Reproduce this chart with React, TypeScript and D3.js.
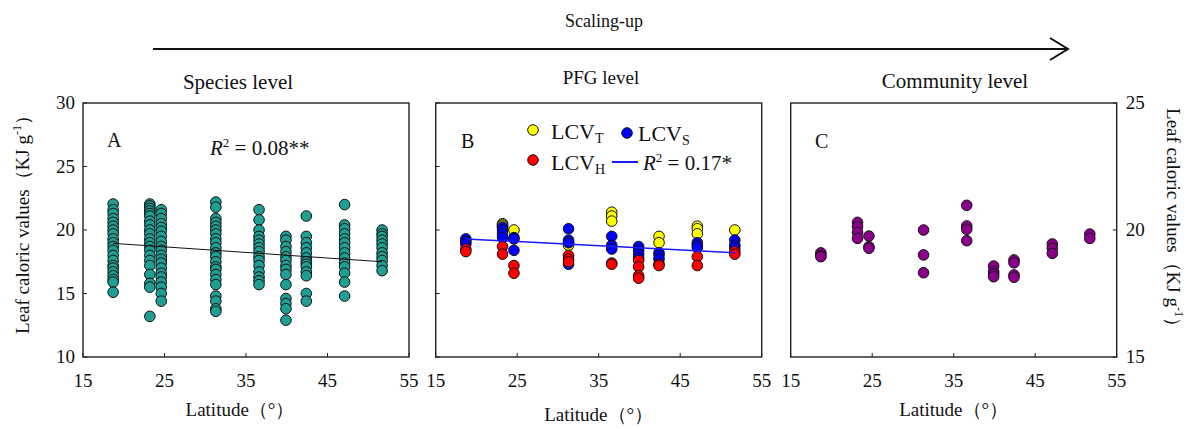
import { scaleLinear } from 'd3'

// Leaf caloric values along latitude at three organisation levels (species, PFG, community).

const latitudes = [18.7, 23.2, 24.6, 31.3, 36.6, 39.9, 42.4, 47.1, 51.7]
const xTicks = [15, 25, 35, 45, 55]
const yTicksLeft = [10, 15, 20, 25, 30]
const yTicksRight = [15, 20, 25]

// species level, one list per site
const speciesValues: number[][] = [
  [22.05, 21.6, 21.3, 20.9, 20.6, 20.3, 20.0, 19.7, 19.3, 19.0, 18.7, 18.4, 18.0, 17.6, 17.2, 17.0, 16.7, 16.4, 16.1, 15.9, 15.1],
  [22.05, 21.9, 21.7, 21.5, 21.3, 21.1, 20.7, 20.4, 20.0, 19.7, 19.3, 19.0, 18.7, 18.4, 18.0, 17.6, 17.2, 16.5, 15.8, 15.5, 13.2],
  [21.6, 21.3, 20.9, 20.5, 20.2, 19.9, 19.5, 19.1, 18.7, 18.4, 18.0, 17.7, 17.4, 17.0, 16.6, 16.3, 15.9, 15.5, 15.0, 14.4],
  [22.2, 21.8, 20.9, 20.6, 20.3, 20.0, 19.7, 19.3, 19.0, 18.6, 18.2, 17.9, 17.5, 17.1, 16.9, 16.5, 16.1, 15.7, 14.8, 14.4, 13.8, 13.6],
  [21.6, 20.8, 20.0, 19.5, 19.2, 18.9, 18.6, 18.3, 17.9, 17.6, 17.2, 16.7, 16.3, 16.0, 15.7],
  [19.5, 19.2, 18.7, 18.3, 17.9, 17.6, 17.2, 16.9, 16.5, 15.7, 14.6, 14.2, 13.8, 12.9],
  [21.1, 19.5, 19.0, 18.6, 18.2, 17.8, 17.5, 17.3, 17.1, 16.7, 16.4, 15.0, 14.4],
  [22.0, 20.4, 20.1, 19.7, 19.3, 19.0, 18.6, 18.2, 17.8, 17.4, 17.1, 16.6, 15.9, 14.8],
  [20.0, 19.7, 19.5, 19.2, 18.9, 18.6, 18.2, 17.9, 17.6, 17.2, 16.8],
]
const speciesTrend = [
  [18.7, 18.95],
  [51.7, 17.5],
]

// PFG level: trees, shrubs, herbs
const treeValues: number[][] = [
  [],
  [20.5, 20.4, 20.3],
  [20.0],
  [19.0, 18.8],
  [21.4, 21.1, 20.7],
  [],
  [19.5, 19.0],
  [20.3, 20.1, 19.7],
  [20.0],
]
const shrubValues: number[][] = [
  [19.3, 19.1, 18.9],
  [20.2, 20.0, 19.7, 19.4],
  [19.4, 19.3, 18.4],
  [20.1, 19.2, 19.0, 17.3],
  [19.5, 18.8, 18.5],
  [18.7, 18.4, 18.1, 17.8],
  [18.2, 18.0, 17.7],
  [19.0, 18.8, 18.6],
  [19.2, 18.8, 18.6],
]
const herbValues: number[][] = [
  [18.5, 18.3],
  [18.7, 18.1],
  [17.2, 16.6],
  [18.0, 17.7, 17.5],
  [17.4, 17.3],
  [17.6, 17.1, 16.4, 16.2],
  [17.3, 17.2],
  [17.9, 17.2],
  [18.3, 18.1],
]
const pfgTrend = [
  [18.7, 19.3],
  [51.7, 18.2],
]

// community level
const communityValues: number[][] = [
  [19.1, 19.0, 18.95],
  [20.3, 20.13, 19.9, 19.67],
  [19.76, 19.34, 19.28],
  [20.0, 19.02, 18.32],
  [20.97, 20.16, 20.03, 19.58],
  [18.58, 18.36, 18.27, 18.16],
  [18.82, 18.71, 18.23, 18.14],
  [19.45, 19.28, 19.08],
  [19.84, 19.67],
]

const FONT = '"Liberation Serif", "Times New Roman", serif'
const TOP = 103
const BOTTOM = 357
const PANEL_W = 326
const PANEL_X = [83, 435.7, 790.7]
const R = 5.3

type Pt = { lat: number; v: number }
const flatten = (vals: number[][]): Pt[] =>
  vals.flatMap((col, i) => col.map((v) => ({ lat: latitudes[i], v })))

function Frame({ x0, yDomain, side }: { x0: number; yDomain: [number, number]; side: 'left' | 'right' | 'none' }) {
  const x = scaleLinear().domain([15, 55]).range([x0, x0 + PANEL_W])
  const y = scaleLinear().domain(yDomain).range([BOTTOM, TOP])
  const yTicks = side === 'right' ? yTicksRight : yTicksLeft
  return (
    <g>
      <rect x={x0} y={TOP} width={PANEL_W} height={BOTTOM - TOP} fill="none" stroke="#222" strokeWidth={1.4} />
      {xTicks.map((t) => (
        <g key={t}>
          <line x1={x(t)} x2={x(t)} y1={BOTTOM} y2={BOTTOM - 4} stroke="#222" />
          <text x={x(t)} y={387} textAnchor="middle" fontSize={19} fontFamily={FONT} fill="#111">
            {t}
          </text>
        </g>
      ))}
      {yTicks.map((t) =>
        side === 'right' ? (
          <line key={t} x1={x0 + PANEL_W} x2={x0 + PANEL_W - 4} y1={y(t)} y2={y(t)} stroke="#222" />
        ) : (
          <line key={t} x1={x0} x2={x0 + 4} y1={y(t)} y2={y(t)} stroke="#222" />
        ),
      )}
      {side === 'left' &&
        yTicks.map((t) => (
          <text key={t} x={x0 - 8} y={y(t) + 6} textAnchor="end" fontSize={19} fontFamily={FONT} fill="#111">
            {t}
          </text>
        ))}
      {side === 'right' &&
        yTicks.map((t) => (
          <text key={t} x={x0 + PANEL_W + 9} y={y(t) + 6} textAnchor="start" fontSize={19} fontFamily={FONT} fill="#111">
            {t}
          </text>
        ))}
    </g>
  )
}

function Dots({ pts, x0, yDomain, fill }: { pts: Pt[]; x0: number; yDomain: [number, number]; fill: string }) {
  const x = scaleLinear().domain([15, 55]).range([x0, x0 + PANEL_W])
  const y = scaleLinear().domain(yDomain).range([BOTTOM, TOP])
  return (
    <g>
      {pts.map((p, i) => (
        <circle key={i} cx={x(p.lat)} cy={y(p.v)} r={R} fill={fill} stroke="#111" strokeWidth={1} />
      ))}
    </g>
  )
}

function Trend({ line, x0, yDomain, stroke, width }: { line: number[][]; x0: number; yDomain: [number, number]; stroke: string; width: number }) {
  const x = scaleLinear().domain([15, 55]).range([x0, x0 + PANEL_W])
  const y = scaleLinear().domain(yDomain).range([BOTTOM, TOP])
  return <line x1={x(line[0][0])} y1={y(line[0][1])} x2={x(line[1][0])} y2={y(line[1][1])} stroke={stroke} strokeWidth={width} />
}

function LcvLabel({ x, y, sub }: { x: number; y: number; sub: string }) {
  return (
    <text x={x} y={y} fontSize={22} fontFamily={FONT} fill="#111">
      LCV
      <tspan fontSize={14} dy={4}>
        {sub}
      </tspan>
    </text>
  )
}

export default function App() {
  const yA: [number, number] = [10, 30]
  const yC: [number, number] = [15, 25]
  const centers = PANEL_X.map((x0) => x0 + PANEL_W / 2)
  return (
    <svg width={1200} height={429} style={{ position: 'absolute', left: 0, top: 0, background: '#fff' }}>
      {/* scaling-up arrow */}
      <text x={604} y={27} textAnchor="middle" fontSize={18} fontFamily={FONT} fill="#111">
        Scaling-up
      </text>
      <line x1={153} x2={1067} y1={49} y2={49} stroke="#111" strokeWidth={2} />
      <polyline points="1050,38 1068,49 1050,60" fill="none" stroke="#111" strokeWidth={2} />
      <text x={238} y={89} textAnchor="middle" fontSize={21} fontFamily={FONT} fill="#111">
        Species level
      </text>
      <text x={601} y={84} textAnchor="middle" fontSize={19} fontFamily={FONT} fill="#111">
        PFG level
      </text>
      <text x={955} y={88} textAnchor="middle" fontSize={21} fontFamily={FONT} fill="#111">
        Community level
      </text>

      {/* panel A */}
      <Frame x0={PANEL_X[0]} yDomain={yA} side="left" />
      <Dots pts={flatten(speciesValues)} x0={PANEL_X[0]} yDomain={yA} fill="#1f9e93" />
      <Trend line={speciesTrend} x0={PANEL_X[0]} yDomain={yA} stroke="#111" width={1} />
      <text x={107} y={147} fontSize={20} fontFamily={FONT} fill="#111">
        A
      </text>
      <text x={210} y={155} fontSize={21} fontFamily={FONT} fill="#111">
        <tspan fontStyle="italic">R</tspan>
        <tspan fontSize={13} dy={-8}>
          2
        </tspan>
        <tspan dy={8}> = 0.08**</tspan>
      </text>

      {/* panel B */}
      <Frame x0={PANEL_X[1]} yDomain={yA} side="none" />
      <Dots pts={flatten(treeValues)} x0={PANEL_X[1]} yDomain={yA} fill="#ffff00" />
      <Dots pts={flatten(shrubValues)} x0={PANEL_X[1]} yDomain={yA} fill="#0000ff" />
      <Dots pts={flatten(herbValues)} x0={PANEL_X[1]} yDomain={yA} fill="#ff0000" />
      <Trend line={pfgTrend} x0={PANEL_X[1]} yDomain={yA} stroke="#1a1aff" width={1.5} />
      <text x={461} y={148} fontSize={20} fontFamily={FONT} fill="#111">
        B
      </text>
      <circle cx={533} cy={130} r={R} fill="#ffff00" stroke="#111" />
      <LcvLabel x={551} y={139} sub="T" />
      <circle cx={627} cy={133} r={R} fill="#0000ff" stroke="#111" />
      <LcvLabel x={638} y={141} sub="S" />
      <circle cx={533} cy={160} r={R} fill="#ff0000" stroke="#111" />
      <LcvLabel x={551} y={170} sub="H" />
      <line x1={612} x2={638} y1={162} y2={162} stroke="#1a1aff" strokeWidth={2} />
      <text x={643} y={170} fontSize={21} fontFamily={FONT} fill="#111">
        <tspan fontStyle="italic">R</tspan>
        <tspan fontSize={13} dy={-8}>
          2
        </tspan>
        <tspan dy={8}> = 0.17*</tspan>
      </text>

      {/* panel C */}
      <Frame x0={PANEL_X[2]} yDomain={yC} side="right" />
      <Dots pts={flatten(communityValues)} x0={PANEL_X[2]} yDomain={yC} fill="#8b008b" />
      <text x={815} y={148} fontSize={20} fontFamily={FONT} fill="#111">
        C
      </text>

      {/* axis titles */}
      <text transform="translate(29,220) rotate(-90)" textAnchor="middle" fontSize={19} fontFamily={FONT} fill="#111">
        Leaf caloric values（KJ g
        <tspan fontSize={12} dy={-8}>
          -1
        </tspan>
        <tspan dy={8}>）</tspan>
      </text>
      <text transform="translate(1167,222) rotate(90)" textAnchor="middle" fontSize={19} fontFamily={FONT} fill="#111">
        Leaf caloric values（KJ g
        <tspan fontSize={12} dy={-8}>
          -1
        </tspan>
        <tspan dy={8}>）</tspan>
      </text>
      {centers.map((cx, i) => (
        <text key={i} x={cx - (i === 0 ? 6 : 0)} y={i === 1 ? 421 : 416} textAnchor="middle" fontSize={19} fontFamily={FONT} fill="#111">
          Latitude（°）
        </text>
      ))}
    </svg>
  )
}
